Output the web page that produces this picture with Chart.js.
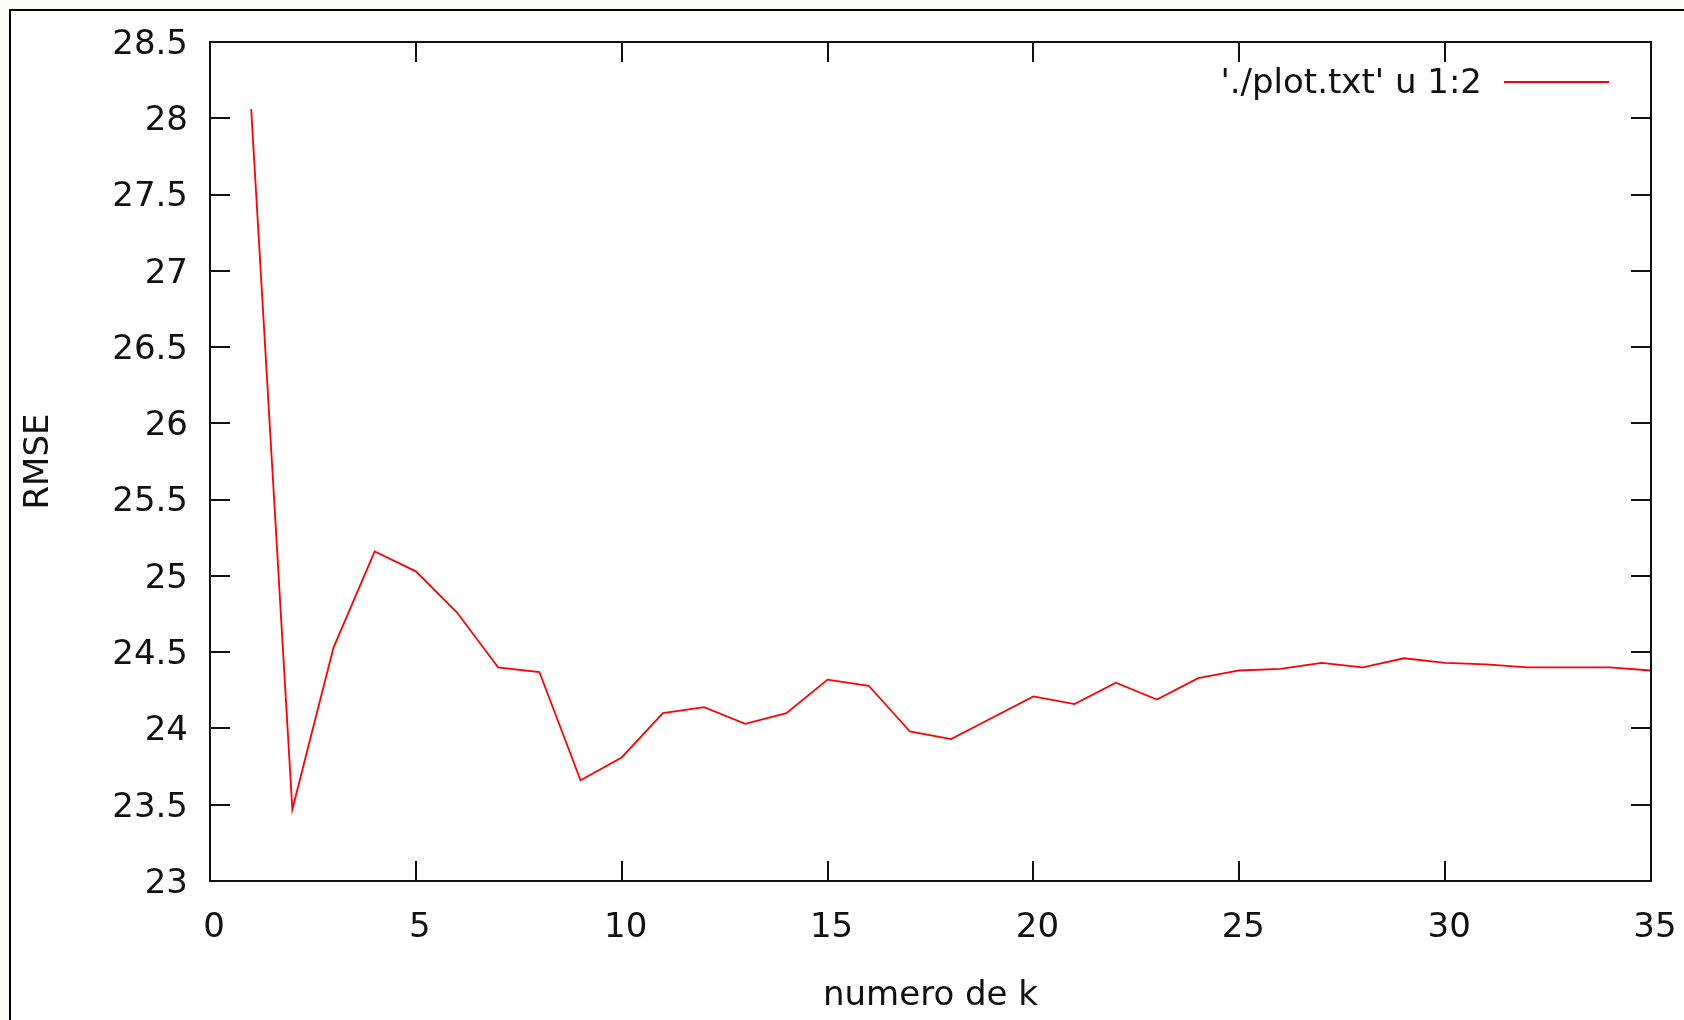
<!DOCTYPE html>
<html>
<head>
<meta charset="utf-8">
<title>RMSE vs k</title>
<script src="https://cdn.jsdelivr.net/npm/chart.js@4"></script>
<style>
  html, body { margin: 0; padding: 0; background: #fbfbf8; }
  canvas { display: block; }
</style>
</head>
<body>
<canvas id="myChart" width="1684" height="1020"></canvas>
<script>
// k values and RMSE
const kValues = [1, 2, 3, 4, 5, 6, 7, 8, 9, 10, 11, 12, 13, 14, 15, 16, 17, 18,
  19, 20, 21, 22, 23, 24, 25, 26, 27, 28, 29, 30, 31, 32, 33, 34, 35];
const rmseValues = [28.06, 23.47, 24.53, 25.16, 25.03, 24.76, 24.40, 24.37, 23.66, 23.81,
  24.10, 24.14, 24.03, 24.10, 24.32, 24.28, 23.98, 23.93, 24.07, 24.21,
  24.16, 24.30, 24.19, 24.33, 24.38, 24.39, 24.43, 24.40, 24.46, 24.43,
  24.42, 24.40, 24.40, 24.40, 24.38];
const xTickValues = [0, 5, 10, 15, 20, 25, 30, 35];
const yTickValues = [23, 23.5, 24, 24.5, 25, 25.5, 26, 26.5, 27, 27.5, 28, 28.5];
const seriesLabel = "'./plot.txt' u 1:2";

const FONT = 'DejaVu Sans';

// gnuplot style frame, inward ticks and legend
const gnuplotFrame = {
    id: 'gnuplotFrame',
    beforeDraw(chart) {
        const ctx = chart.ctx;
        ctx.save();
        ctx.fillStyle = '#ffffff';
        ctx.fillRect(10, 10, chart.width - 10, chart.height - 10);
        ctx.strokeStyle = '#000';
        ctx.lineWidth = 2;
        ctx.beginPath();
        ctx.moveTo(10, chart.height);
        ctx.lineTo(10, 10);
        ctx.lineTo(chart.width, 10);
        ctx.stroke();
        ctx.restore();
    },
    afterDraw(chart) {
        const ctx = chart.ctx;
        const area = chart.chartArea;
        const xs = chart.scales.x;
        const ys = chart.scales.y;
        const len = 20;
        ctx.save();
        ctx.strokeStyle = '#111';
        ctx.lineWidth = 2;
        ctx.beginPath();
        xTickValues.forEach(v => {
            const px = Math.round(xs.getPixelForValue(v));
            ctx.moveTo(px, area.bottom);
            ctx.lineTo(px, area.bottom - len);
            ctx.moveTo(px, area.top);
            ctx.lineTo(px, area.top + len);
        });
        yTickValues.forEach(v => {
            const py = Math.round(ys.getPixelForValue(v));
            ctx.moveTo(area.left, py);
            ctx.lineTo(area.left + len, py);
            ctx.moveTo(area.right, py);
            ctx.lineTo(area.right - len, py);
        });
        ctx.stroke();
        ctx.strokeRect(area.left, area.top, area.right - area.left, area.bottom - area.top);

        // legend: text then sample line, top right
        const ly = area.top + 40;
        ctx.font = '34px "' + FONT + '"';
        ctx.fillStyle = '#111';
        ctx.textAlign = 'right';
        ctx.textBaseline = 'middle';
        ctx.fillText(seriesLabel, area.right - 169, ly + 2);
        ctx.strokeStyle = '#ff0000';
        ctx.beginPath();
        ctx.moveTo(area.right - 147, ly);
        ctx.lineTo(area.right - 42, ly);
        ctx.stroke();
        ctx.restore();
    }
};

const ctx = document.getElementById('myChart').getContext('2d');
const myChart = new Chart(ctx, {
    type: 'line',
    data: {
        datasets: [{
            label: seriesLabel,
            data: kValues.map((k, i) => ({x: k, y: rmseValues[i]})),
            borderColor: '#ff0000',
            backgroundColor: '#ff0000',
            borderWidth: 1.8,
            pointRadius: 0,
            tension: 0,
            fill: false
        }]
    },
    options: {
        responsive: false,
        animation: false,
        layout: { padding: { left: 0, top: 42, right: 33, bottom: 0 } },
        plugins: {
            legend: { display: false },
            tooltip: { enabled: false }
        },
        scales: {
            x: {
                type: 'linear',
                min: 0,
                max: 35,
                afterBuildTicks: scale => { scale.ticks = xTickValues.map(v => ({value: v})); },
                afterFit: scale => {
                    scale.height = 139;
                    scale.paddingLeft = 0;
                    scale.paddingRight = 0;
                },
                grid: { display: false, drawTicks: false },
                border: { display: false },
                ticks: {
                    color: '#111',
                    font: { family: FONT, size: 34 },
                    padding: 27,
                    labelOffset: 4,
                    maxRotation: 0,
                    callback: value => String(value)
                },
                title: {
                    display: true,
                    text: 'numero de k',
                    color: '#111',
                    font: { family: FONT, size: 34 },
                    padding: { top: 0, bottom: 3 }
                }
            },
            y: {
                type: 'linear',
                min: 23,
                max: 28.5,
                afterBuildTicks: scale => { scale.ticks = yTickValues.map(v => ({value: v})); },
                afterFit: scale => {
                    scale.width = 210;
                    scale.paddingTop = 0;
                    scale.paddingBottom = 0;
                },
                grid: { display: false, drawTicks: false },
                border: { display: false },
                ticks: {
                    color: '#111',
                    font: { family: FONT, size: 34 },
                    padding: 22,
                    labelOffset: 3,
                    callback: value => String(value)
                },
                title: {
                    display: true,
                    text: 'RMSE',
                    color: '#111',
                    font: { family: FONT, size: 34 },
                    padding: { top: 19, bottom: 0 }
                }
            }
        }
    },
    plugins: [gnuplotFrame]
});
</script>
</body>
</html>
